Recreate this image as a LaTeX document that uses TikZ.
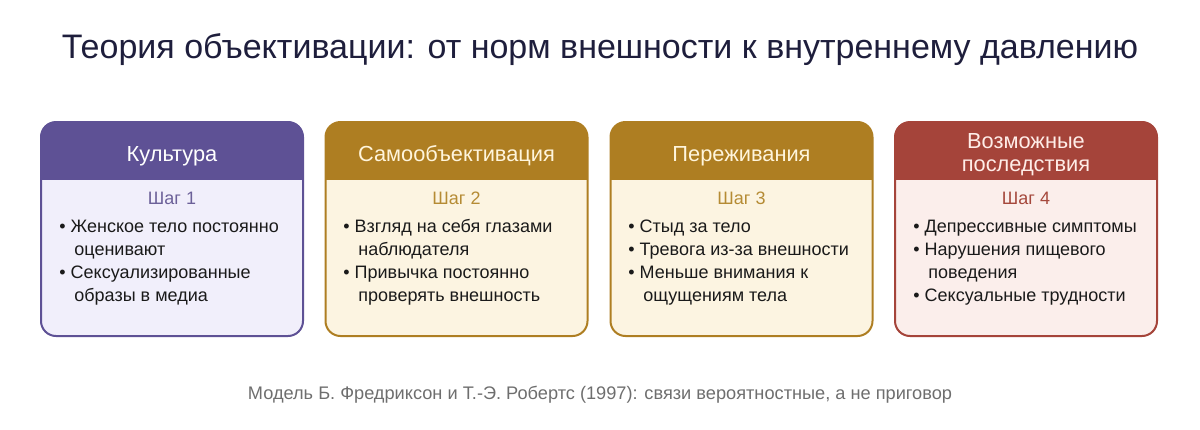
\documentclass[tikz,border=0pt]{standalone}
\usepackage{fontspec}
\setmainfont{Liberation Sans}
\definecolor{titleink}{HTML}{1E1E3C}
\definecolor{bodyink}{HTML}{1A1A1A}
\definecolor{noteink}{HTML}{6E6E6E}
\definecolor{purphd}{HTML}{5E5195}
\definecolor{purpbg}{HTML}{F1EFFB}
\definecolor{purpst}{HTML}{6C6199}
\definecolor{goldhd}{HTML}{AE7E22}
\definecolor{goldbg}{HTML}{FCF4E1}
\definecolor{goldst}{HTML}{B58B34}
\definecolor{goldtx}{HTML}{FFF5DC}
\definecolor{redhd}{HTML}{A5443A}
\definecolor{redbg}{HTML}{FBEEEB}
\definecolor{redst}{HTML}{A5483C}
\definecolor{redtx}{HTML}{FFEDE8}
\begin{document}
\begin{tikzpicture}[x=0.5pt,y=-0.5pt,
    card/.style 2 args={rounded corners=7.5pt, line width=1pt, draw=#1, fill=#2,
        minimum width=131pt, minimum height=107pt, inner sep=0pt,
        path picture={\fill[#1, sharp corners] (path picture bounding box.north west)
            rectangle ([yshift=-29pt]path picture bounding box.north east);}},
    headtxt/.style={anchor=base, inner sep=0pt, align=center,
        font=\fontsize{10.9}{11.5}\selectfont},
    steptxt/.style={anchor=base, inner sep=0pt, font=\fontsize{9}{10}\selectfont},
    item/.style={anchor=base west, inner sep=0pt, text=bodyink,
        font=\fontsize{9}{10}\selectfont}]
    \useasboundingbox (0,0) rectangle (1200,429);
    \node[anchor=base, inner sep=0pt, text=titleink, font=\fontsize{17}{20}\selectfont]
        (title) at (600,58) {Теория объективации: от норм внешности к внутреннему давлению};
    % cards
    \node[card={purphd}{purpbg}] (card1) at (172,229) {};
    \node[card={goldhd}{goldbg}] (card2) at (456.5,229) {};
    \node[card={goldhd}{goldbg}] (card3) at (741.5,229) {};
    \node[card={redhd}{redbg}] (card4) at (1026,229) {};
    % headers
    \node[headtxt, text=white] (head1) at (172,161) {Культура};
    \node[headtxt, text=goldtx] (head2) at (456.5,161) {Самообъективация};
    \node[headtxt, text=goldtx] (head3) at (741.5,161) {Переживания};
    \node[headtxt, text=redtx] (head4) at (1026,171) {Возможные\\последствия};
    % steps
    \node[steptxt, text=purpst] (shag1) at (172,204) {Шаг 1};
    \node[steptxt, text=goldst] (shag2) at (456.5,204) {Шаг 2};
    \node[steptxt, text=goldst] (shag3) at (741.5,204) {Шаг 3};
    \node[steptxt, text=redst] (shag4) at (1026,204) {Шаг 4};
    % card 1
    \node[item] (c1a) at (59,232) {• Женское тело постоянно};
    \node[item] (c1b) at (74,255) {оценивают};
    \node[item] (c1c) at (59,278) {• Сексуализированные};
    \node[item] (c1d) at (74,301) {образы в медиа};
    % card 2
    \node[item] (c2a) at (343,232) {• Взгляд на себя глазами};
    \node[item] (c2b) at (358,255) {наблюдателя};
    \node[item] (c2c) at (343,278) {• Привычка постоянно};
    \node[item] (c2d) at (358,301) {проверять внешность};
    % card 3
    \node[item] (c3a) at (628,232) {• Стыд за тело};
    \node[item] (c3b) at (628,255) {• Тревога из-за внешности};
    \node[item] (c3c) at (628,278) {• Меньше внимания к};
    \node[item] (c3d) at (643,301) {ощущениям тела};
    % card 4
    \node[item] (c4a) at (913,232) {• Депрессивные симптомы};
    \node[item] (c4b) at (913,255) {• Нарушения пищевого};
    \node[item] (c4c) at (928,278) {поведения};
    \node[item] (c4d) at (913,301) {• Сексуальные трудности};
    \node[anchor=base, inner sep=0pt, text=noteink, font=\fontsize{9.1}{10}\selectfont]
        (note) at (600,399) {Модель Б. Фредриксон и Т.-Э. Робертс (1997): связи вероятностные, а не приговор};
\end{tikzpicture}
\end{document}
